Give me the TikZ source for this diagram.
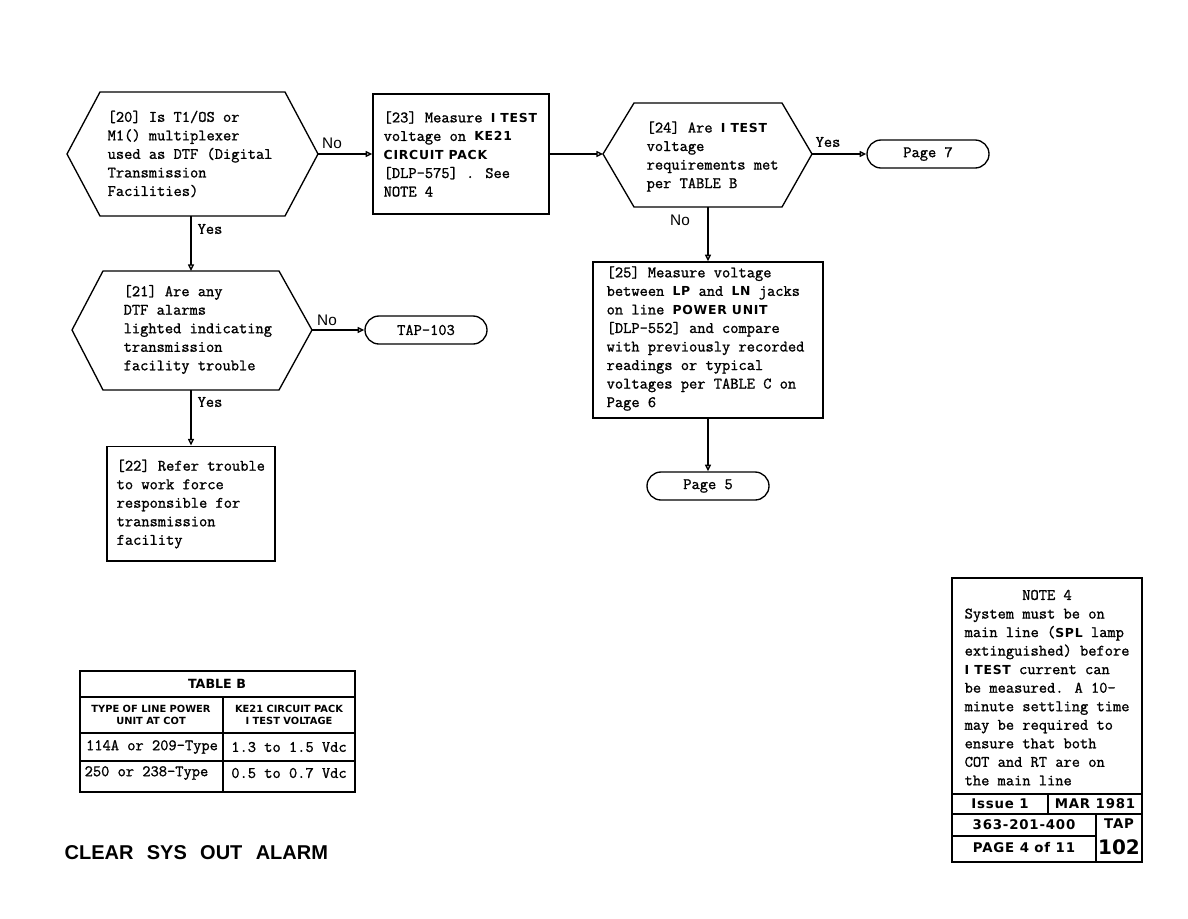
\documentclass[tikz,border=0pt]{standalone}
\usepackage{fontspec}
\newfontfamily\mono{Latin Modern Mono}[FakeBold=1.2]
\newfontfamily\bsf{DejaVu Sans}
\newfontfamily\bsfs{DejaVu Sans}[LetterSpace=6]
\newfontfamily\asf{Liberation Sans}
\usetikzlibrary{arrows.meta}
\newcommand\B[1]{{\bsfs\bfseries\fontsize{9.3}{13.9}\selectfont #1}}
\begin{document}
\begin{tikzpicture}[x=0.75pt,y=-0.75pt,
  line width=1pt,
  txt/.style={font=\mono\fontsize{12}{13.9}\selectfont, align=left, inner sep=0pt},
  ctxt/.style={font=\mono\fontsize{12}{13.9}\selectfont, align=center, inner sep=0pt},
  term/.style={draw, rounded corners=10.5pt, minimum width=91.5pt, minimum height=21pt, inner sep=0pt, font=\mono\fontsize{12}{13.9}\selectfont},
  arr/.style={-{Triangle[open,length=5pt,width=4.5pt]}},
  lbl/.style={font=\mono\fontsize{12}{13.9}\selectfont, inner sep=0pt},
  lbs/.style={font=\asf\fontsize{11.5}{13}\selectfont, inner sep=0pt},
  hdr/.style={font=\bsf\bfseries\fontsize{7.4}{9.5}\selectfont, align=center, inner sep=0pt},
  stb/.style={font=\bsf\bfseries\fontsize{9.5}{12}\selectfont, inner sep=0pt},
  ftb/.style={font=\bsfs\bfseries\fontsize{10}{12}\selectfont, inner sep=0pt}
]
\useasboundingbox (0,0) rectangle (1188,918);

% ---------- hexagon 20
\draw (67,154) -- (100,92) -- (285,92) -- (318,154) -- (285,216) -- (100,216) -- cycle;
\coordinate (h20r) at (318,154);
\coordinate (h20b) at (191,216);
\node[txt, anchor=west] (t20) at (107,154) {[20] Is T1/OS or\\ M1() multiplexer\\ used as DTF (Digital\\ Transmission\\ Facilities)};

% ---------- box 23
\node[draw, minimum width=132pt, minimum height=90pt, inner sep=0pt] (b23) at (461,154) {};
\node[txt, anchor=west] (t23) at (383,154) {[23] Measure \B{I TEST}\\ voltage on \B{KE21}\\ \B{CIRCUIT PACK}\\ {}[DLP-575] . See\\ NOTE 4};

% ---------- hexagon 24
\draw (603,154) -- (634,103) -- (782,103) -- (812,154) -- (782,207) -- (634,207) -- cycle;
\coordinate (h24l) at (603,154);
\coordinate (h24r) at (812,154);
\coordinate (h24b) at (708,207);
\node[txt, anchor=west] (t24) at (646,156.5) {[24] Are \B{I TEST}\\ voltage\\ requirements met\\ per TABLE B};

% ---------- Page 7
\node[term] (p7) at (928,154) {Page 7};

% ---------- box 25
\node[draw, minimum width=172.5pt, minimum height=117pt, inner sep=0pt] (b25) at (708,340) {};
\node[txt, anchor=west] (t25) at (606,338.5) {[25] Measure voltage\\ between \B{LP} and \B{LN} jacks\\ on line \B{POWER UNIT}\\ {}[DLP-552] and compare\\ with previously recorded\\ readings or typical\\ voltages per TABLE C on\\ Page 6};

% ---------- Page 5
\node[term] (p5) at (708,486) {Page 5};

% ---------- hexagon 21
\draw (72,330) -- (103,271) -- (279,271) -- (312,330) -- (279,390) -- (103,390) -- cycle;
\coordinate (h21t) at (191,271);
\coordinate (h21r) at (312,330);
\coordinate (h21b) at (191,390);
\node[txt, anchor=west] (t21) at (123,329.5) {[21] Are any\\ DTF alarms\\ lighted indicating\\ transmission\\ facility trouble};

% ---------- TAP-103
\node[term] (tap) at (426,330) {TAP-103};

% ---------- box 22
\node[draw, minimum width=126pt, minimum height=86pt, inner sep=0pt] (b22) at (191,503.5) {};
\node[txt, anchor=west] (t22) at (116,504) {[22] Refer trouble\\ to work force\\ responsible for\\ transmission\\ facility};

% ---------- connectors
\draw[arr] (h20r) -- (b23.west);
\draw[arr] (b23.east) -- (h24l);
\draw[arr] (h24r) -- (p7.west);
\draw[arr] (h24b) -- (b25.north);
\draw[arr] (b25.south) -- (p5.north);
\draw[arr] (h20b) -- (h21t);
\draw[arr] (h21r) -- (tap.west);
\draw[arr] (h21b) -- (b22.north);

% ---------- connector labels
\node[lbs] (l1) at (332,143) {No};
\node[lbl] (l2) at (210,229) {Yes};
\node[lbl] (l3) at (828,142) {Yes};
\node[lbs] (l4) at (680,220) {No};
\node[lbs] (l5) at (327,320) {No};
\node[lbl] (l6) at (210,402) {Yes};

% ---------- table B
\draw (80,671) rectangle (355,792);
\draw (80,697) -- (355,697);
\draw (80,733) -- (355,733);
\draw (80,761) -- (355,761);
\draw (223,697) -- (223,792);
\node[stb] (tbt) at (217,684) {TABLE B};
\node[hdr] (th1) at (151,715) {TYPE OF LINE POWER\\ UNIT AT COT};
\node[hdr] (th2) at (289,715) {KE21 CIRCUIT PACK\\ I TEST VOLTAGE};
\node[ctxt] (c11) at (152,747) {114A or 209-Type};
\node[ctxt] (c12) at (289,747) {1.3 to 1.5 Vdc};
\node[txt, anchor=west] (c21) at (84,773) {250 or 238-Type};
\node[ctxt] (c22) at (289,773) {0.5 to 0.7 Vdc};

% ---------- note box
\draw (952,578) rectangle (1142,862);
\draw (952,794) -- (1142,794);
\draw (952,814) -- (1142,814);
\draw (952,836) -- (1096,836);
\draw (1048,794) -- (1048,814);
\draw (1096,814) -- (1096,862);
\node[lbl] (n4) at (1047,595) {NOTE 4};
\node[txt, anchor=west] (ntx) at (964,697) {System must be on\\ main line (\B{SPL} lamp\\ extinguished) before\\ \B{I TEST} current can\\ be measured. A 10-\\ minute settling time\\ may be required to\\ ensure that both\\ COT and RT are on\\ the main line};
\node[ftb] (iss) at (1000,804) {Issue 1};
\node[ftb] (mar) at (1095,804) {MAR 1981};
\node[ftb] (num) at (1024,825) {363-201-400};
\node[ftb] (pg) at (1024,848) {PAGE 4 of 11};
\node[ftb] (tp) at (1119,824) {TAP};
\node[font=\bsf\bfseries\fontsize{15}{18}\selectfont, inner sep=0pt] (n102) at (1119,847) {102};

% ---------- title
\node[font=\asf\bfseries\fontsize{15}{18}\selectfont, inner sep=0pt, anchor=west] (title) at (64,853) {CLEAR\hspace{10pt}SYS\hspace{10pt}OUT\hspace{10pt}ALARM};
\end{tikzpicture}
\end{document}
